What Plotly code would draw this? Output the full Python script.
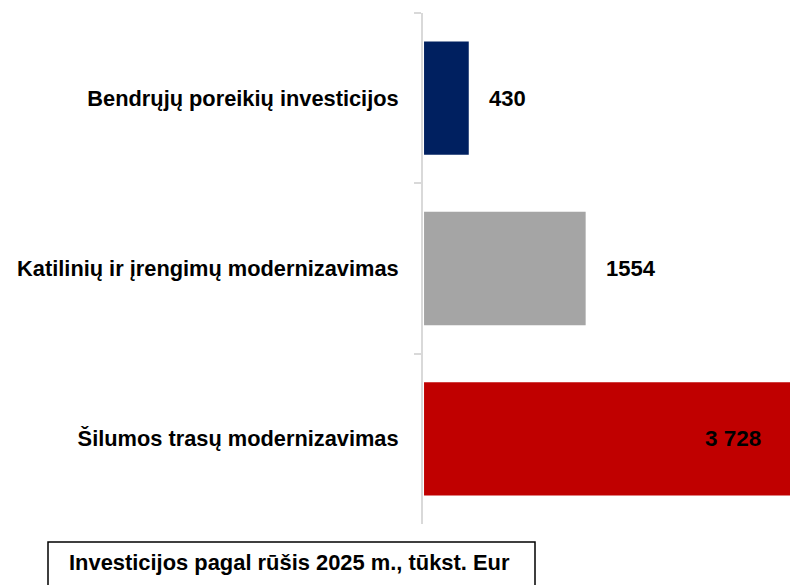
import plotly.graph_objects as go

categories = ["Bendrųjų poreikių investicijos", "Katilinių ir įrengimų modernizavimas", "Šilumos trasų modernizavimas"]
values = [430, 1554, 3728]
value_labels = ["430", "1554", "3 728"]
colors = ["#002060", "#A5A5A5", "#C00000"]
legend_text = "Investicijos pagal rūšis 2025 m., tūkst. Eur"

FONT = "Liberation Sans, Arial, sans-serif"

W, H = 790, 585
L, R, T, B = 423, 0, 13, 61
PW, PH = W - L - R, H - T - B


def px_x(p):
    return (p - L) / PW


def px_y(p):
    return (H - B - p) / PH


fig = go.Figure()
fig.add_trace(go.Bar(
    y=categories, x=values, orientation="h",
    marker=dict(color=colors, line=dict(width=0)),
    showlegend=False, hoverinfo="skip",
))

# value labels
for c, v, t in zip(categories, values, value_labels):
    if v < 3500:
        fig.add_annotation(x=v, y=c, xref="x", yref="y", text=f"<b>{t}</b>",
                           showarrow=False, xanchor="left", xshift=18,
                           font=dict(family=FONT, size=22, color="black"))
    else:
        fig.add_annotation(x=1, y=c, xref="paper", yref="y", text=f"<b>{t}</b>",
                           showarrow=False, xanchor="right", xshift=-27,
                           font=dict(family=FONT, size=22.5, color="black"))

# legend-like boxed caption
fig.add_shape(type="rect", xref="paper", yref="paper",
              x0=px_x(48), x1=px_x(535), y0=px_y(542), y1=px_y(620),
              line=dict(color="black", width=1.5), fillcolor="rgba(0,0,0,0)")
fig.add_annotation(x=px_x(67), y=px_y(562), xref="paper", yref="paper",
                   xanchor="left", yanchor="middle", text=f"<b>{legend_text}</b>",
                   showarrow=False, align="left",
                   font=dict(family=FONT, size=21.9, color="black"))

fig.update_layout(
    width=W, height=H,
    margin=dict(l=L, r=R, t=T, b=B),
    paper_bgcolor="white", plot_bgcolor="white",
    bargap=0.335,
    xaxis=dict(range=[-10, 3519], visible=False, fixedrange=True),
    yaxis=dict(autorange="reversed", showline=True, linecolor="#D9D9D9", linewidth=2,
               ticks="outside", tickson="boundaries", ticklen=7, tickcolor="#D9D9D9",
               tickwidth=2, showgrid=False, ticklabelstandoff=18, fixedrange=True,
               tickfont=dict(family=FONT, size=21.8, color="black"),
               tickprefix="<b>", ticksuffix="</b>"),
)

fig.write_html("out.html", config={"displayModeBar": False},
               post_script="document.body.style.margin='0';")
